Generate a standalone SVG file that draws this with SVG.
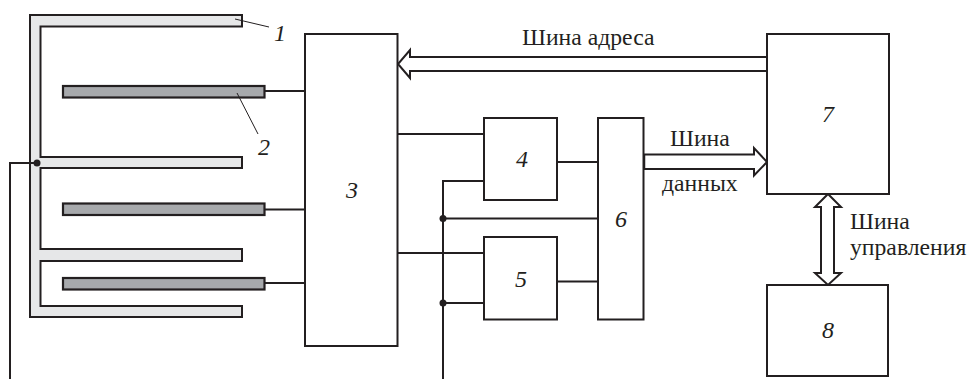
<svg xmlns="http://www.w3.org/2000/svg" width="970" height="379" viewBox="0 0 970 379">
<style>
.b{fill:#fff;stroke:#231f20;stroke-width:2}
.w{fill:none;stroke:#231f20;stroke-width:2}
.l{fill:none;stroke:#231f20;stroke-width:1}
.e{fill:#a7a9ac;stroke:#231f20;stroke-width:2.2}
.c{fill:#e6e7e8;stroke:#231f20;stroke-width:2}
.a{fill:#fff;stroke:#231f20;stroke-width:2}
.d{fill:#231f20}
text{font-family:"Liberation Serif","Times New Roman",serif;font-size:23.700px;fill:#231f20}
.n{font-style:italic;font-size:24px;text-anchor:middle}
</style>
<g id="node-1-comb"><path class="c" d="M30 15H242V26.500H40.500V157H242V168H40.500V249H242V261H40.500V306H242V317H30Z"/><text class="n" x="280" y="41">1</text></g>
<g id="node-2a"><rect class="e" x="63" y="86" width="201.500" height="11.500"/><text class="n" x="264" y="155">2</text></g>
<g id="node-2b"><rect class="e" x="63" y="203.500" width="201.500" height="11.500"/></g>
<g id="node-2c"><rect class="e" x="63" y="278" width="201.500" height="11.500"/></g>
<g id="connectors">
<path class="l" d="M235 19L269 27M237 93L258 134"/>
<path class="w" d="M264.500 91H305M264.500 209.500H305M264.500 283H305"/>
<path class="w" d="M397.500 134H484M397.500 253H484M557 162H598M557 281.500H598"/>
<path class="w" d="M484 181H443V379M443 218.500H598M443 303H484"/>
<path class="w" d="M37 163H10V379"/>
<circle class="d" cx="37" cy="163" r="3.500"/>
<circle class="d" cx="443" cy="218.500" r="3.500"/>
<circle class="d" cx="443" cy="303" r="3.500"/>
<path class="a" d="M767 57H410V50L398 64L410 78V71H767Z"/>
<path class="a" d="M643.500 154.500H754V148L767 162L754 175.500V169H643.500Z"/>
<path class="a" d="M828 194L841 207H834V273H841L828 285L815 273H821V207H815Z"/>
<path d="M643.500 154.500V169" fill="none" stroke="#231f20" stroke-width="3.500"/>
</g>
<g id="node-3"><rect class="b" x="305" y="34" width="92.500" height="312"/><text class="n" x="352" y="198">3</text></g>
<g id="node-4"><rect class="b" x="484" y="118" width="73" height="82"/><text class="n" x="522" y="167">4</text></g>
<g id="node-5"><rect class="b" x="484" y="237" width="73" height="82.500"/><text class="n" x="521" y="287">5</text></g>
<g id="node-6"><rect class="b" x="598" y="118" width="45.500" height="201.500"/><text class="n" x="621" y="227">6</text></g>
<g id="node-7"><rect class="b" x="767" y="34" width="122" height="160"/><text class="n" x="828" y="122">7</text></g>
<g id="node-8"><rect class="b" x="767" y="285" width="121" height="91"/><text class="n" x="828" y="338">8</text></g>
<g id="labels">
<text x="522" y="45">Шина адреса</text>
<text x="670" y="146">Шина</text>
<text x="662" y="191">данных</text>
<text x="850" y="229">Шина</text>
<text x="850" y="255">управления</text>
</g>
</svg>
